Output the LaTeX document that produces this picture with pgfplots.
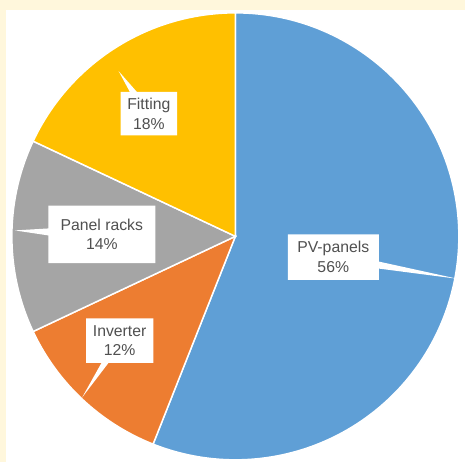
\documentclass[border=0pt]{standalone}
\usepackage{pgfplots}
\pgfplotsset{compat=1.18}
\usepackage{pgfplotstable}
\usepackage{fontspec}
\setmainfont{Liberation Sans}
\usetikzlibrary{shapes.callouts}
\definecolor{cream}{HTML}{FFF7DC}
\definecolor{pvblue}{HTML}{5F9FD6}
\definecolor{invorange}{HTML}{ED7D31}
\definecolor{rackgray}{HTML}{A5A5A5}
\definecolor{fitgold}{HTML}{FFC000}
\definecolor{labeltext}{HTML}{505050}
\tikzset{lbl/.style={rectangle callout, fill=white, inner sep=2bp, text=labeltext,
  font=\fontsize{16}{20}\selectfont, align=center}}

\pgfplotstableread[col sep=comma]{
label,value
PV-panels,56
Inverter,12
Panel racks,14
Fitting,18
}\piedata

\pgfplotstablegetelem{0}{value}\of\piedata \edef\vA{\pgfplotsretval}
\pgfplotstablegetelem{1}{value}\of\piedata \edef\vB{\pgfplotsretval}
\pgfplotstablegetelem{2}{value}\of\piedata \edef\vC{\pgfplotsretval}
\pgfplotstablegetelem{3}{value}\of\piedata \edef\vD{\pgfplotsretval}
\pgfplotstablegetelem{0}{label}\of\piedata \edef\lA{\pgfplotsretval}
\pgfplotstablegetelem{1}{label}\of\piedata \edef\lB{\pgfplotsretval}
\pgfplotstablegetelem{2}{label}\of\piedata \edef\lC{\pgfplotsretval}
\pgfplotstablegetelem{3}{label}\of\piedata \edef\lD{\pgfplotsretval}
\pgfmathsetmacro\aA{90}
\pgfmathsetmacro\aB{\aA-3.6*\vA}
\pgfmathsetmacro\aC{\aB-3.6*\vB}
\pgfmathsetmacro\aD{\aC-3.6*\vC}
\pgfmathsetmacro\aE{\aD-3.6*\vD}

\begin{document}
\begin{tikzpicture}
\begin{axis}[scale only axis, width=470bp, height=467bp,
  xmin=0, xmax=470, ymin=0, ymax=467, hide axis, clip=false]
\fill[cream] (axis cs:0,0) rectangle (axis cs:470,467);
\fill[white] (axis cs:6,0) rectangle (axis cs:470,457);
\filldraw[fill=pvblue, draw=white, line width=1.5bp] (axis cs:238,228) -- ++(\aA:226bp) arc[start angle=\aA, end angle=\aB, radius=226bp] -- cycle;
\filldraw[fill=invorange, draw=white, line width=1.5bp] (axis cs:238,228) -- ++(\aB:226bp) arc[start angle=\aB, end angle=\aC, radius=226bp] -- cycle;
\filldraw[fill=rackgray, draw=white, line width=1.5bp] (axis cs:238,228) -- ++(\aC:226bp) arc[start angle=\aC, end angle=\aD, radius=226bp] -- cycle;
\filldraw[fill=fitgold, draw=white, line width=1.5bp] (axis cs:238,228) -- ++(\aD:226bp) arc[start angle=\aD, end angle=\aE, radius=226bp] -- cycle;
\node[lbl, minimum width=92bp, minimum height=46bp,
  callout absolute pointer={(axis cs:463,185)}] at (axis cs:337,207) {\lA\\\vA\%};
\node[lbl, minimum width=68bp, minimum height=45bp,
  callout absolute pointer={(axis cs:83,65)}] at (axis cs:121,122.5) {\lB\\\vB\%};
\node[lbl, minimum width=108bp, minimum height=58bp,
  callout absolute pointer={(axis cs:15,234)}] at (axis cs:103,230) {\lC\\\vC\%};
\node[lbl, minimum width=57bp, minimum height=44bp,
  callout absolute pointer={(axis cs:120,395)}] at (axis cs:150.5,352) {\lD\\\vD\%};
\end{axis}
\end{tikzpicture}
\end{document}
